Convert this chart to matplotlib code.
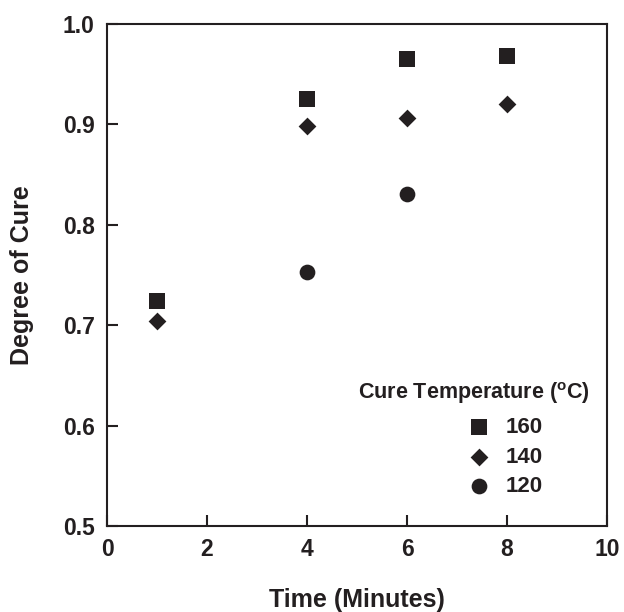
import matplotlib

matplotlib.use("Agg")

import matplotlib.pyplot as plt

# Degree of cure vs time at three cure temperatures
time_160 = [1, 4, 6, 8]
cure_160 = [0.724, 0.925, 0.965, 0.968]
time_140 = [1, 4, 6, 8]
cure_140 = [0.704, 0.898, 0.906, 0.920]
time_120 = [4, 6]
cure_120 = [0.753, 0.831]

x_ticks = [0, 2, 4, 6, 8, 10]
y_ticks = [0.5, 0.6, 0.7, 0.8, 0.9, 1.0]

INK = "#231f20"

plt.rcParams["font.family"] = ["Liberation Sans", "DejaVu Sans"]
plt.rcParams["font.weight"] = "bold"
plt.rcParams["mathtext.fontset"] = "custom"
plt.rcParams["mathtext.rm"] = "Liberation Sans:bold"
plt.rcParams["mathtext.bf"] = "Liberation Sans:bold"

fig = plt.figure(figsize=(6.24, 6.12), dpi=100)
ax = fig.add_axes([107 / 624, 1 - 526 / 612, 500 / 624, 502 / 612])

h160 = ax.scatter(time_160, cure_160, marker="s", s=118, color=INK, linewidths=0)
h140 = ax.scatter(time_140, cure_140, marker="D", s=82, color=INK, linewidths=0)
h120 = ax.scatter(time_120, cure_120, marker="o", s=128, color=INK, linewidths=0)

ax.set_xlim(0, 10)
ax.set_ylim(0.5, 1.0)
ax.set_xticks(x_ticks)
ax.set_xticklabels([str(v) for v in x_ticks])
ax.set_yticks(y_ticks)
ax.set_yticklabels([f"{v:.1f}" for v in y_ticks])
ax.tick_params(direction="in", length=8, width=1.5, colors=INK, labelsize=16.5,
               top=False, right=False, pad=9)
for spine in ax.spines.values():
    spine.set_linewidth(1.5)
    spine.set_color(INK)

ax.set_xlabel("Time (Minutes)", fontsize=18, fontweight="bold", color=INK)
ax.set_ylabel("Degree of Cure", fontsize=18, fontweight="bold", color=INK)
ax.xaxis.set_label_coords(0.5, (526 - 600) / 502)
ax.yaxis.set_label_coords((22 - 107) / 500, 0.5)
ax.xaxis.label.set_va("center")
ax.yaxis.label.set_va("center")

ax.text(0.966, 0.265, r"Cure Temperature ($^{\mathbf{o}}$C)", transform=ax.transAxes,
        ha="right", va="center", fontsize=15.5, fontweight="bold", color=INK)
ax.legend([h160, h140, h120], ["160", "140", "120"], loc="upper left",
          bbox_to_anchor=(0.718, 0.217), frameon=False, fontsize=16,
          handlelength=1.2, handletextpad=0.6, labelspacing=0.38,
          borderpad=0, borderaxespad=0, markerscale=1, labelcolor=INK)

fig.savefig("out.png", dpi=100)
